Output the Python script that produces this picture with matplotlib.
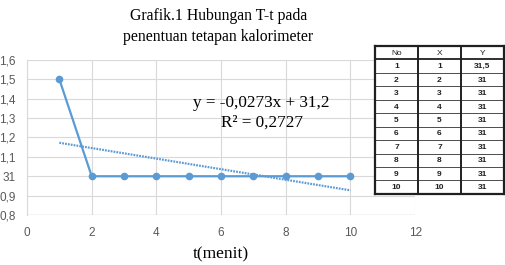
import numpy as np
import matplotlib.pyplot as plt

# data dari tabel
no = [1, 2, 3, 4, 5, 6, 7, 8, 9, 10]
x = [1, 2, 3, 4, 5, 6, 7, 8, 9, 10]
y = [31.5, 31, 31, 31, 31, 31, 31, 31, 31, 31]
y_label = ['31,5', '31', '31', '31', '31', '31', '31', '31', '31', '31']
ytick_vals = [0.8, 0.9, 1.0, 1.1, 1.2, 1.3, 1.4, 1.5, 1.6]
ytick_text = ['0,8', '0,9', '31', '1,1', '1,2', '1,3', '1,4', '1,5', '1,6']
xtick_vals = [0, 2, 4, 6, 8, 10, 12]

biru = '#5B9BD5'
abu = '#595959'

fig = plt.figure(figsize=(5.05, 2.65), dpi=100)
ax = fig.add_axes([0.0535, 0.1887, 0.7685, 0.585])

xa = np.array(x)
ya = np.array(y) - 30  # sumbu di grafik aslinya tergeser
ax.plot(xa, ya, color=biru, lw=1.6, marker='o', ms=4.5, zorder=3)

# trendline linear
m, c = np.polyfit(xa, ya, 1)
ax.plot([xa[0], xa[-1]], [m * xa[0] + c, m * xa[-1] + c], color=biru, lw=1.6,
        ls=(0, (0.8, 0.5)), zorder=2)

ax.set_xlim(0, 12)
ax.set_ylim(0.8, 1.6)
ax.set_xticks(xtick_vals)
ax.set_yticks(ytick_vals)
ax.set_yticklabels(ytick_text)
ax.tick_params(length=0, labelsize=8.5, labelcolor=abu, pad=8)
ax.tick_params(axis='x', pad=9)
for t in ax.get_xticklabels() + ax.get_yticklabels():
    t.set_fontfamily('Liberation Sans')
ax.grid(True, color='#d9d9d9', lw=0.8)
ax.set_axisbelow(True)
for s in ['top', 'right', 'bottom']:
    ax.spines[s].set_visible(False)
ax.spines['left'].set_color('#d9d9d9')
ax.axhline(0.8, color='#bfbfbf', lw=0.9, zorder=1)

ax.set_xlabel('t(menit)', family='Liberation Serif', fontsize=12.5, labelpad=5)

fig.text(0.432, 0.968, 'Grafik.1 Hubungan T-t pada\npenentuan tetapan kalorimeter',
         ha='center', va='top', family='Liberation Serif', fontsize=11.3, linespacing=1.4)

persamaan = 'y = -0,0273x + 31,2\nR² = 0,2727'
fig.text(0.518, 0.573, persamaan, ha='center', va='center',
         family='Liberation Serif', fontsize=12.3, linespacing=1.3)

# tabel di kanan
tb = fig.add_axes([0.7426, 0.268, 0.2554, 0.5596])
tb.set_xlim(0, 3)
tb.set_ylim(len(no) + 1, 0)
tb.set_facecolor('white')
tb.set_xticks([])
tb.set_yticks([])
for s in tb.spines.values():
    s.set_linewidth(1.6)
    s.set_color('#202020')

baris = [['No', 'X', 'Y']] + [[str(a), str(b), c] for a, b, c in zip(no, x, y_label)]
for i, r in enumerate(baris):
    for j, val in enumerate(r):
        tb.text(j + 0.5, i + 0.55, val, ha='center', va='center', fontsize=6,
                family='Liberation Sans', fontweight='normal' if i == 0 else 'bold',
                color='#202020')
    if i > 0:
        tb.axhline(i, color='#303030', lw=0.6 if i > 1 else 1.4)
for j in [1, 2]:
    tb.axvline(j, color='#202020', lw=1.4)

fig.savefig('out.png', dpi=100)
